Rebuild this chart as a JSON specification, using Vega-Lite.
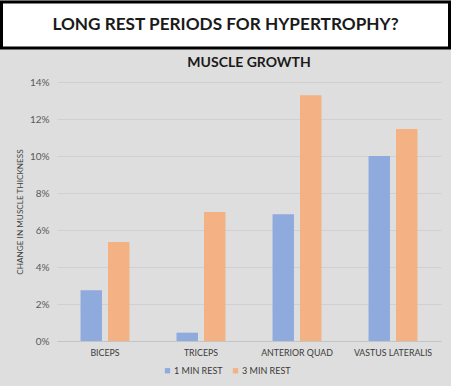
{
  "$schema": "https://vega.github.io/schema/vega-lite/v6.json",
  "background": "#dedede",
  "padding": {"left": 0, "right": 0, "top": 0, "bottom": 20},
  "spacing": 6,
  "resolve": {"legend": {"color": "independent"}},
  "config": {"font": "Lato", "view": {"stroke": null}},
  "vconcat": [
    {
      "width": 384,
      "height": 46,
      "data": {"values": [{"t": "LONG REST PERIODS FOR HYPERTROPHY?"}]},
      "layer": [
        {
          "mark": {"type": "rect", "fill": "white", "stroke": "black", "strokeWidth": 3},
          "encoding": {
            "x": {"datum": 0, "type": "quantitative", "scale": {"domain": [0, 1], "range": [-55.5, 392.5]}, "axis": null},
            "x2": {"datum": 1}
          }
        },
        {
          "mark": {"type": "text", "font": "Lato", "fontWeight": "bold", "fontSize": 17.2, "color": "#1a1a1a", "align": "center", "baseline": "middle"},
          "encoding": {
            "x": {"datum": 0.5, "type": "quantitative"},
            "text": {"field": "t", "type": "nominal"}
          }
        }
      ]
    },
    {
      "width": 384,
      "height": 259,
      "title": {"text": "MUSCLE GROWTH", "font": "Lato", "fontSize": 14, "fontWeight": "bold", "color": "#1a1a1a", "offset": 7, "anchor": "middle"},
      "data": {"values": [
        {"muscle": "BICEPS", "rest": "1 MIN REST", "change": 0.0274},
        {"muscle": "BICEPS", "rest": "3 MIN REST", "change": 0.0535},
        {"muscle": "TRICEPS", "rest": "1 MIN REST", "change": 0.0045},
        {"muscle": "TRICEPS", "rest": "3 MIN REST", "change": 0.0697},
        {"muscle": "ANTERIOR QUAD", "rest": "1 MIN REST", "change": 0.0685},
        {"muscle": "ANTERIOR QUAD", "rest": "3 MIN REST", "change": 0.1328},
        {"muscle": "VASTUS LATERALIS", "rest": "1 MIN REST", "change": 0.1},
        {"muscle": "VASTUS LATERALIS", "rest": "3 MIN REST", "change": 0.1146}
      ]},
      "mark": {"type": "bar"},
      "encoding": {
        "x": {
          "field": "muscle", "type": "nominal",
          "sort": ["BICEPS", "TRICEPS", "ANTERIOR QUAD", "VASTUS LATERALIS"],
          "scale": {"paddingInner": 0.49, "paddingOuter": 0.245},
          "title": null,
          "axis": {"labelAngle": 0, "labelFontSize": 8.8, "labelColor": "#3a3a3a", "labelPadding": 7, "ticks": false, "domainColor": "#c4c4c4", "labelFont": "Lato"}
        },
        "xOffset": {"field": "rest", "type": "nominal", "scale": {"paddingInner": 0.22, "paddingOuter": 0}},
        "y": {
          "field": "change", "type": "quantitative",
          "scale": {"domain": [0, 0.14]},
          "title": "CHANGE IN MUSCLE THICKNESS",
          "axis": {"format": "%", "values": [0, 0.02, 0.04, 0.06, 0.08, 0.1, 0.12, 0.14], "labelFontSize": 10, "labelColor": "#595959", "labelPadding": 8, "ticks": false, "domain": false, "gridColor": "#d0d0d0", "gridWidth": 1, "titleFontSize": 8.2, "titleFontWeight": "normal", "titleColor": "#404040", "titlePadding": 5, "titleFont": "Lato", "labelFont": "Lato"}
        },
        "color": {
          "field": "rest", "type": "nominal",
          "scale": {"range": ["#8faadc", "#f4b183"]},
          "legend": {"orient": "none", "legendX": 106, "legendY": 284, "direction": "horizontal", "title": null, "symbolType": "square", "symbolSize": 28, "symbolStrokeWidth": 0, "labelFontSize": 9, "labelColor": "#3a3a3a", "labelFont": "Lato", "labelOffset": 2, "columnPadding": 8, "padding": 0}
        }
      }
    }
  ]
}
